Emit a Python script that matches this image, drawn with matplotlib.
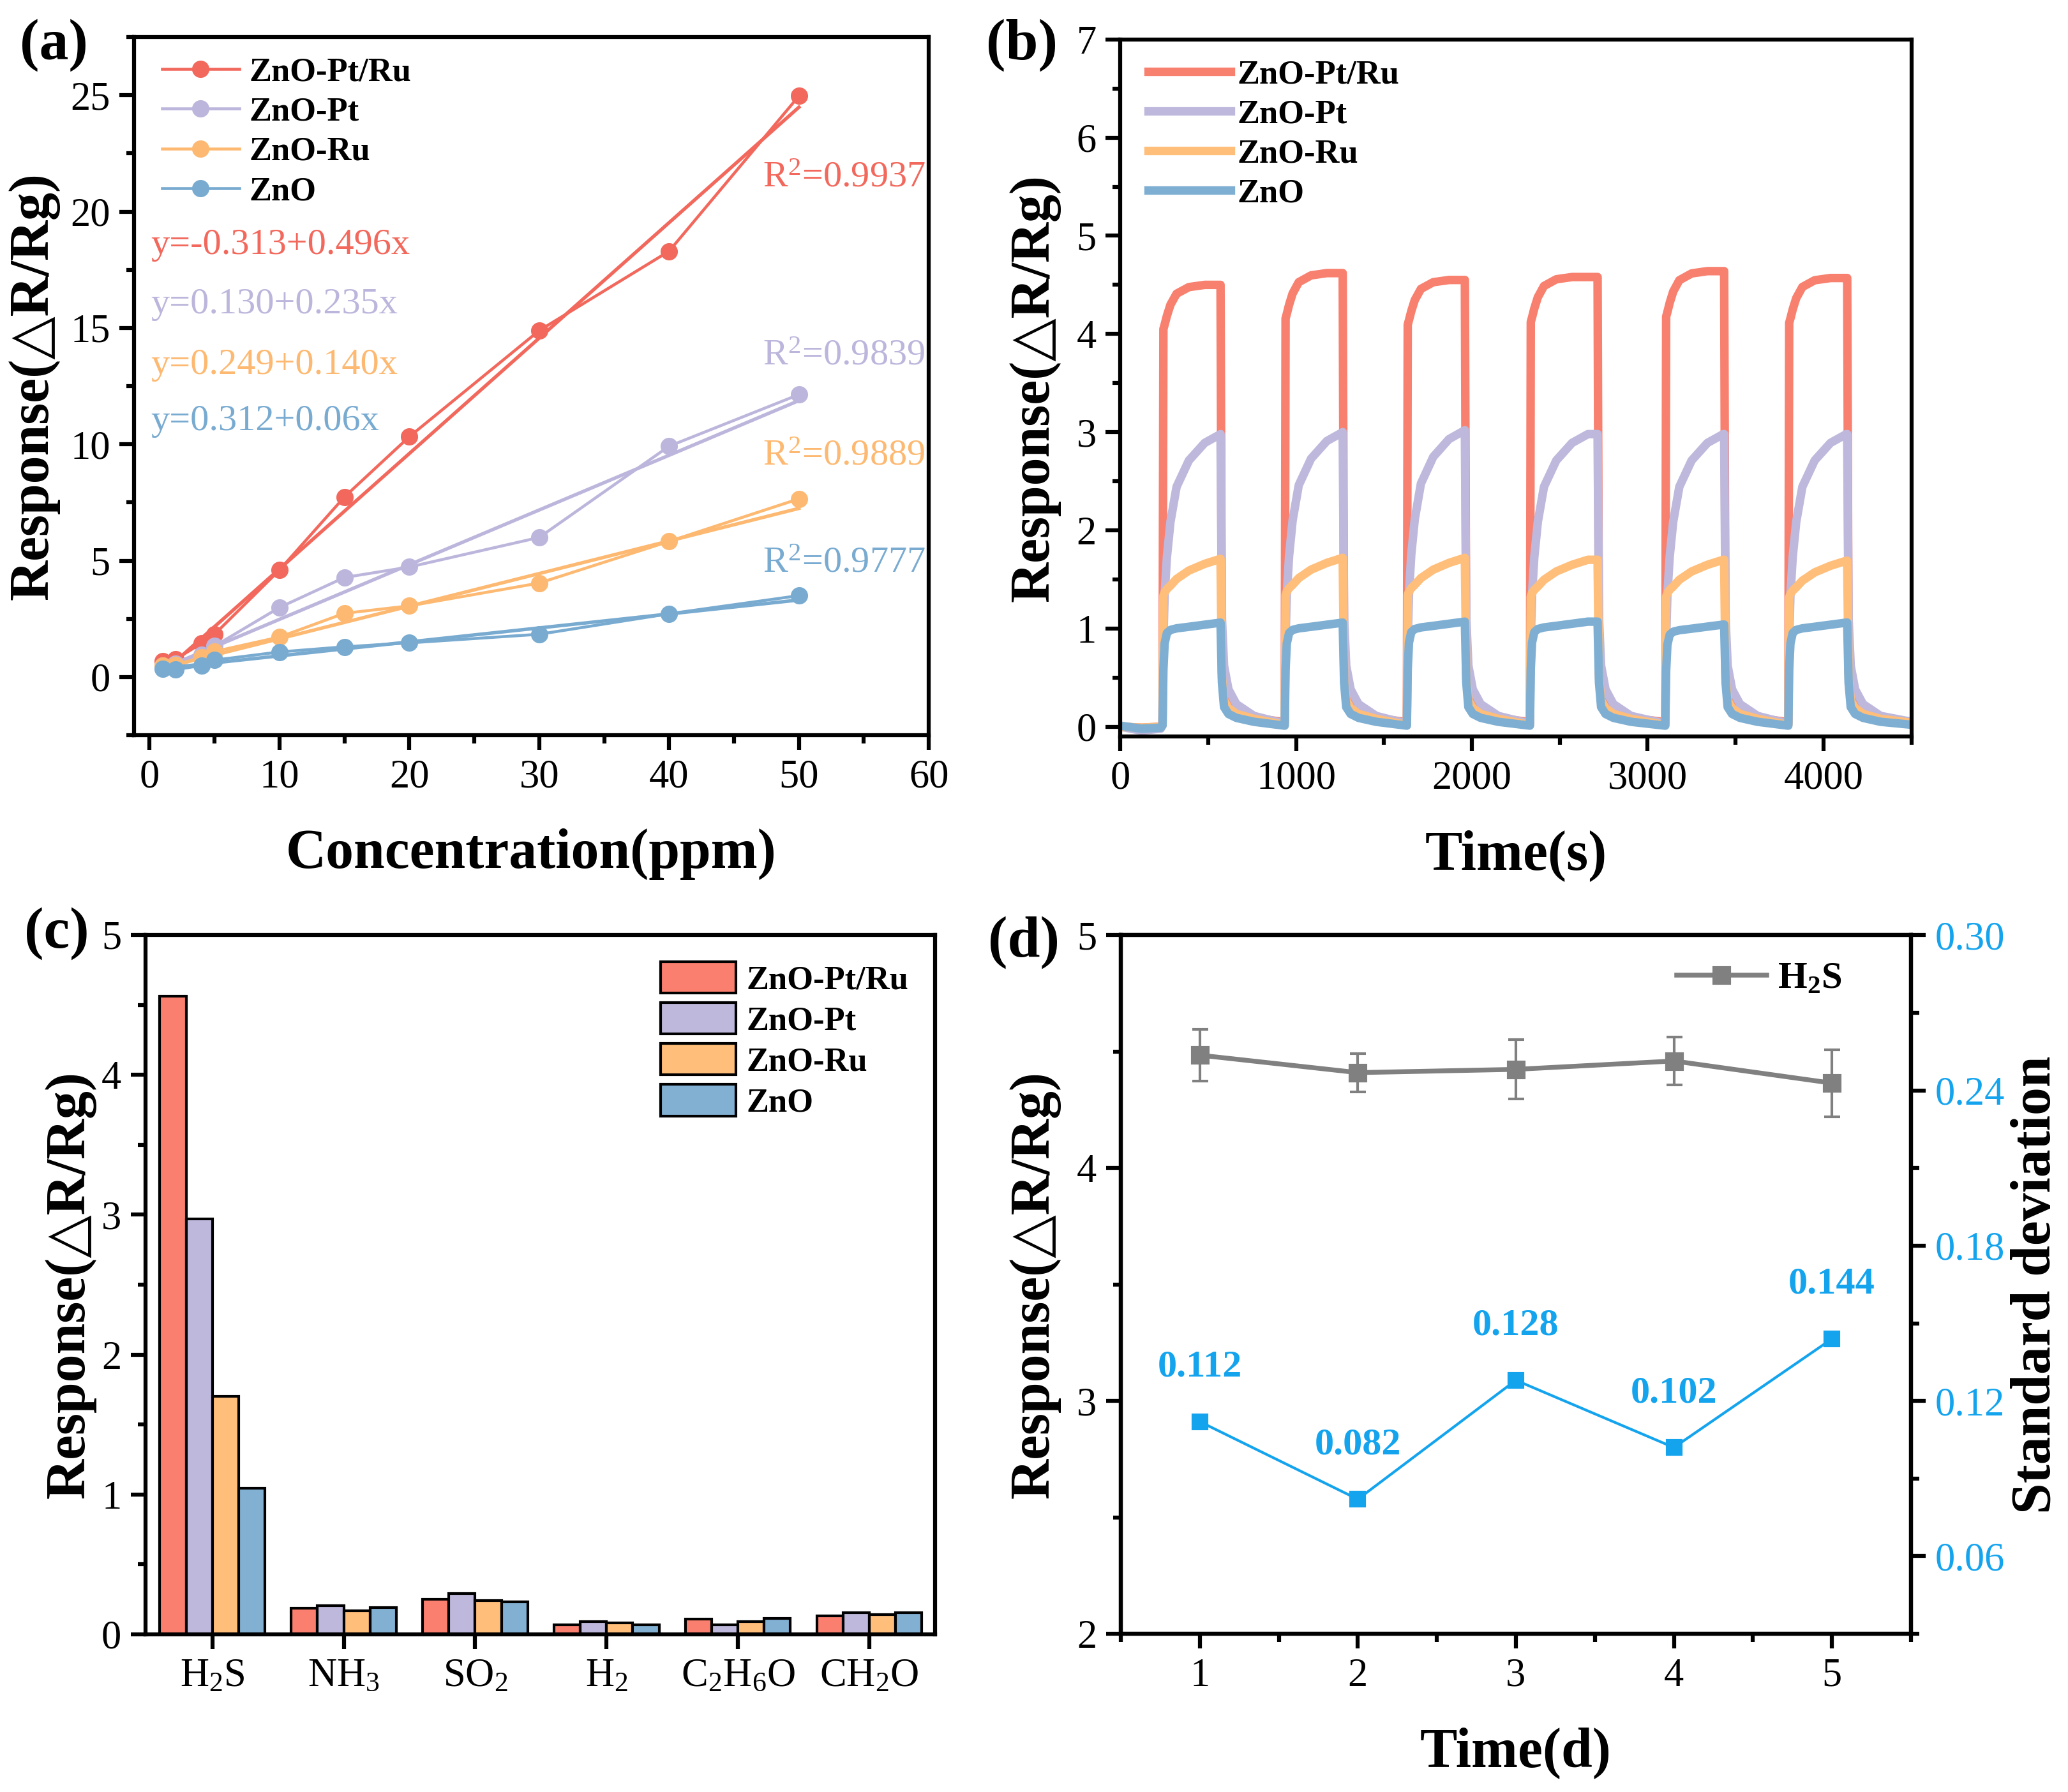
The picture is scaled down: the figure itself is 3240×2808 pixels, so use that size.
import numpy as np
import matplotlib
matplotlib.use("Agg")
import matplotlib.pyplot as plt
from matplotlib.ticker import MultipleLocator, FormatStrFormatter
from matplotlib.lines import Line2D

plt.rcParams['font.family'] = ['Liberation Serif', 'DejaVu Serif']
plt.rcParams['mathtext.fontset'] = 'custom'
plt.rcParams['mathtext.rm'] = 'Liberation Serif'
plt.rcParams['mathtext.it'] = 'Liberation Serif:italic'
plt.rcParams['mathtext.bf'] = 'Liberation Serif:bold'
plt.rcParams['axes.linewidth'] = 1.5

# ---- (a) odpowiedz vs stezenie ----
conc = [1, 2, 4, 5, 10, 15, 20, 30, 40, 50]
resp_ptru = [0.69, 0.77, 1.45, 1.84, 4.60, 7.74, 10.33, 14.89, 18.30, 24.97]
resp_pt = [0.50, 0.58, 0.95, 1.33, 2.99, 4.28, 4.73, 6.00, 9.92, 12.14]
resp_ru = [0.48, 0.52, 0.85, 1.10, 1.72, 2.74, 3.06, 4.04, 5.83, 7.66]
resp_zno = [0.36, 0.32, 0.50, 0.73, 1.08, 1.30, 1.47, 1.84, 2.72, 3.50]
fit_intercept = [-0.313, 0.130, 0.249, 0.312]
fit_slope = [0.496, 0.235, 0.140, 0.06]
fit_text = ['y=-0.313+0.496x', 'y=0.130+0.235x', 'y=0.249+0.140x', 'y=0.312+0.06x']
r_squared = ['0.9937', '0.9839', '0.9889', '0.9777']

names = ['ZnO-Pt/Ru', 'ZnO-Pt', 'ZnO-Ru', 'ZnO']
colors_a = ['#F2685C', '#BDB6DC', '#FDB971', '#79ABD1']
colors_b = ['#F8806F', '#BEB8DC', '#FFBE7A', '#7EAFD3']
colors_c = ['#FA7F6F', '#BEB8DC', '#FFBE7A', '#82B0D2']

# ---- (b) cykle odpowiedzi w czasie ----
t_on = [240, 935, 1630, 2330, 3100, 3800]
t_off = [570, 1265, 1960, 2715, 3435, 4135]
t_end = 4500
base_t = [0, 120, 230]
rise_t = [0, 5, 12, 25, 45, 80, 150, 240, 330]
decay_t = [8, 20, 45, 90, 190, 385]

level_ptru = [4.50, 4.62, 4.55, 4.58, 4.64, 4.57]
level_pt = [2.98, 3.00, 3.02, 2.98, 2.98, 2.98]
level_ru = [1.71, 1.72, 1.72, 1.70, 1.70, 1.69]
level_zno = [1.06, 1.06, 1.07, 1.07, 1.04, 1.06]

rise_ptru = [0.01, 0.90, 0.91, 0.93, 0.955, 0.98, 0.995, 1.0, 1.0]
rise_pt = [0.01, 0.30, 0.45, 0.58, 0.70, 0.82, 0.91, 0.97, 1.0]
rise_ru = [0.01, 0.78, 0.80, 0.82, 0.84, 0.88, 0.93, 0.97, 1.0]
rise_zno = [0.01, 0.55, 0.80, 0.90, 0.93, 0.945, 0.96, 0.98, 1.0]

decay_ptru = [0.55, 0.33, 0.24, 0.16, 0.09, 0.05]
decay_pt = [1.10, 0.62, 0.38, 0.23, 0.11, 0.05]
decay_ru = [0.50, 0.27, 0.19, 0.13, 0.08, 0.04]
decay_zno = [0.45, 0.20, 0.13, 0.09, 0.05, 0.02]

base_ptru = [0.0, -0.01, 0.0]
base_pt = [0.0, -0.04, -0.02]
base_ru = [0.0, -0.01, 0.0]
base_zno = [0.01, -0.02, -0.01]

# ---- (c) selektywnosc ----
gases = ['H$_2$S', 'NH$_3$', 'SO$_2$', 'H$_2$', 'C$_2$H$_6$O', 'CH$_2$O']
sel_ptru = [4.56, 0.185, 0.25, 0.066, 0.107, 0.13]
sel_pt = [2.97, 0.205, 0.29, 0.09, 0.07, 0.156]
sel_ru = [1.70, 0.17, 0.24, 0.082, 0.09, 0.143]
sel_zno = [1.045, 0.19, 0.23, 0.07, 0.115, 0.156]

# ---- (d) stabilnosc ----
days = [1, 2, 3, 4, 5]
resp_h2s = [4.485, 4.41, 4.424, 4.46, 4.365]
std_h2s = [0.112, 0.082, 0.128, 0.102, 0.144]

TICK = 15
LABEL = 21
LEG = 12.6


def style_axes(ax):
    ax.tick_params(which='both', direction='out', width=1.5, labelsize=TICK,
                   top=False, right=False)
    ax.tick_params(which='major', length=5.5)
    ax.tick_params(which='minor', length=3)


def build_cycles(level, rise, decay, base):
    t = list(base_t)
    y = list(base)
    for k in range(len(t_on)):
        nxt = t_on[k + 1] if k + 1 < len(t_on) else t_end
        for dt, f in zip(rise_t, rise):
            if t_on[k] + dt < t_off[k]:
                t.append(t_on[k] + dt)
                y.append(f * level[k])
        t.append(t_off[k])
        y.append(level[k])
        for dt, v in zip(decay_t, decay):
            if t_off[k] + dt < nxt:
                t.append(t_off[k] + dt)
                y.append(v)
    t.append(t_end)
    y.append(decay[-1])
    return t, y


fig = plt.figure(figsize=(10.803, 9.36), dpi=300)

# =========== (a) ===========
ax = fig.add_axes([0.0648, 0.5897, 0.3842, 0.3896])
style_axes(ax)
series_a = [resp_ptru, resp_pt, resp_ru, resp_zno]
for i, vals in enumerate(series_a):
    ax.plot(conc, vals, color=colors_a[i], lw=1.1, marker='o', ms=5.5,
            label=names[i])
    xf = np.array([conc[0], conc[-1]])
    ax.plot(xf, fit_intercept[i] + fit_slope[i] * xf, color=colors_a[i], lw=1.3)
eq_y = [18.56, 16.0, 13.4, 11.0]
r2_y = [21.45, 13.8, 9.5, 4.9]
for i in range(4):
    ax.text(0.1, eq_y[i], fit_text[i], color=colors_a[i], fontsize=14,
            va='center', ha='left')
    ax.text(47.2, r2_y[i], 'R$^2$=' + r_squared[i], color=colors_a[i],
            fontsize=14, va='center', ha='left')
ax.set_xlim(-1.2, 60)
ax.set_ylim(-2.5, 27.5)
ax.xaxis.set_major_locator(MultipleLocator(10))
ax.xaxis.set_minor_locator(MultipleLocator(5))
ax.yaxis.set_major_locator(MultipleLocator(5))
ax.yaxis.set_minor_locator(MultipleLocator(2.5))
ax.set_xlabel('Concentration(ppm)', fontsize=LABEL, fontweight='bold', labelpad=12)
ax.set_ylabel('Response(△R/Rg)', fontsize=LABEL, fontweight='bold', labelpad=4)
ax.legend(loc='upper left', bbox_to_anchor=(0.01, 1.0), frameon=False,
          prop={'weight': 'bold', 'size': LEG}, handlelength=2.3,
          handletextpad=0.3, labelspacing=0.27, borderaxespad=0.2)

# =========== (b) ===========
ax = fig.add_axes([0.5416, 0.589, 0.3824, 0.389])
style_axes(ax)
levels = [level_ptru, level_pt, level_ru, level_zno]
rises = [rise_ptru, rise_pt, rise_ru, rise_zno]
decays = [decay_ptru, decay_pt, decay_ru, decay_zno]
bases = [base_ptru, base_pt, base_ru, base_zno]
for i in range(4):
    t, y = build_cycles(levels[i], rises[i], decays[i], bases[i])
    ax.plot(t, y, color=colors_b[i], lw=3.2, label=names[i],
            solid_joinstyle='round')
ax.set_xlim(0, 4500)
ax.set_ylim(-0.1, 7)
ax.xaxis.set_major_locator(MultipleLocator(1000))
ax.xaxis.set_minor_locator(MultipleLocator(500))
ax.yaxis.set_major_locator(MultipleLocator(1))
ax.yaxis.set_minor_locator(MultipleLocator(0.5))
ax.set_xlabel('Time(s)', fontsize=LABEL, fontweight='bold', labelpad=12)
ax.set_ylabel('Response(△R/Rg)', fontsize=LABEL, fontweight='bold', labelpad=6)
ax.legend(loc='upper left', bbox_to_anchor=(0.01, 1.0), frameon=False,
          prop={'weight': 'bold', 'size': LEG}, handlelength=2.45,
          handletextpad=0.2, labelspacing=0.27, borderaxespad=0.2)

# =========== (c) ===========
ax = fig.add_axes([0.0703, 0.088, 0.3817, 0.3903])
style_axes(ax)
xpos = np.arange(len(gases))
series_c = [sel_ptru, sel_pt, sel_ru, sel_zno]
bar_w = 0.2
for i, vals in enumerate(series_c):
    ax.bar(xpos + (i - 1.5) * bar_w, vals, width=bar_w, color=colors_c[i],
           edgecolor='black', linewidth=1.0, label=names[i])
ax.set_xlim(-0.51, 5.5)
ax.set_ylim(0, 5)
ax.set_xticks(xpos)
ax.set_xticklabels(gases)
ax.yaxis.set_major_locator(MultipleLocator(1))
ax.yaxis.set_minor_locator(MultipleLocator(0.5))
ax.set_ylabel('Response(△R/Rg)', fontsize=LABEL, fontweight='bold', labelpad=2)
ax.legend(loc='upper right', frameon=False,
          prop={'weight': 'bold', 'size': LEG}, handlelength=2.25,
          handleheight=1.07, handletextpad=0.3, labelspacing=0.2,
          borderaxespad=0.4)

# =========== (d) ===========
gray = '#808080'
blue = '#14A4EE'
ax = fig.add_axes([0.5418, 0.0883, 0.382, 0.3898])
style_axes(ax)
ax.errorbar(days, resp_h2s, yerr=std_h2s, color=gray, lw=1.8, marker='s',
            ms=6, ecolor=gray, elinewidth=1.0, capsize=3, capthick=1.0)
ax.set_xlim(0.5, 5.5)
ax.set_ylim(2, 5)
ax.xaxis.set_major_locator(MultipleLocator(1))
ax.xaxis.set_minor_locator(MultipleLocator(0.5))
ax.yaxis.set_major_locator(MultipleLocator(1))
ax.yaxis.set_minor_locator(MultipleLocator(0.5))
ax.set_xlabel('Time(d)', fontsize=LABEL, fontweight='bold', labelpad=12)
ax.set_ylabel('Response(△R/Rg)', fontsize=LABEL, fontweight='bold', labelpad=6)
leg_handle = Line2D([], [], color=gray, lw=1.8, marker='s', ms=6)
ax.legend([leg_handle], [r'$\mathbf{H_2S}$'], loc='upper right',
          bbox_to_anchor=(0.955, 1.01), frameon=False,
          prop={'weight': 'bold', 'size': LEG + 1.5}, handlelength=2.4,
          handletextpad=0.3)

ax2 = ax.twinx()
ax2.plot(days, std_h2s, color=blue, lw=1.0, marker='s', ms=5.5)
for d, s in zip(days, std_h2s):
    ax2.text(d, s + 0.021, f'{s:.3f}', color=blue, fontsize=14.5,
             fontweight='bold', ha='center', va='center')
ax2.set_ylim(0.03, 0.30)
ax2.yaxis.set_major_locator(MultipleLocator(0.06))
ax2.yaxis.set_minor_locator(MultipleLocator(0.03))
ax2.yaxis.set_major_formatter(FormatStrFormatter('%.2f'))
ax2.tick_params(which='both', direction='out', width=1.5, labelsize=TICK,
                labelcolor=blue)
ax2.tick_params(which='major', length=5.5)
ax2.tick_params(which='minor', length=3)
ax2.set_ylabel('Standard deviation', fontsize=LABEL, fontweight='bold',
               labelpad=2)

# podpisy paneli
for lab, x, y in [('(a)', 0.026, 0.975), ('(b)', 0.494, 0.975),
                  ('(c)', 0.0274, 0.479), ('(d)', 0.495, 0.474)]:
    fig.text(x, y, lab, fontsize=22, fontweight='bold', ha='center', va='center')

fig.savefig('out.png', dpi=300)
